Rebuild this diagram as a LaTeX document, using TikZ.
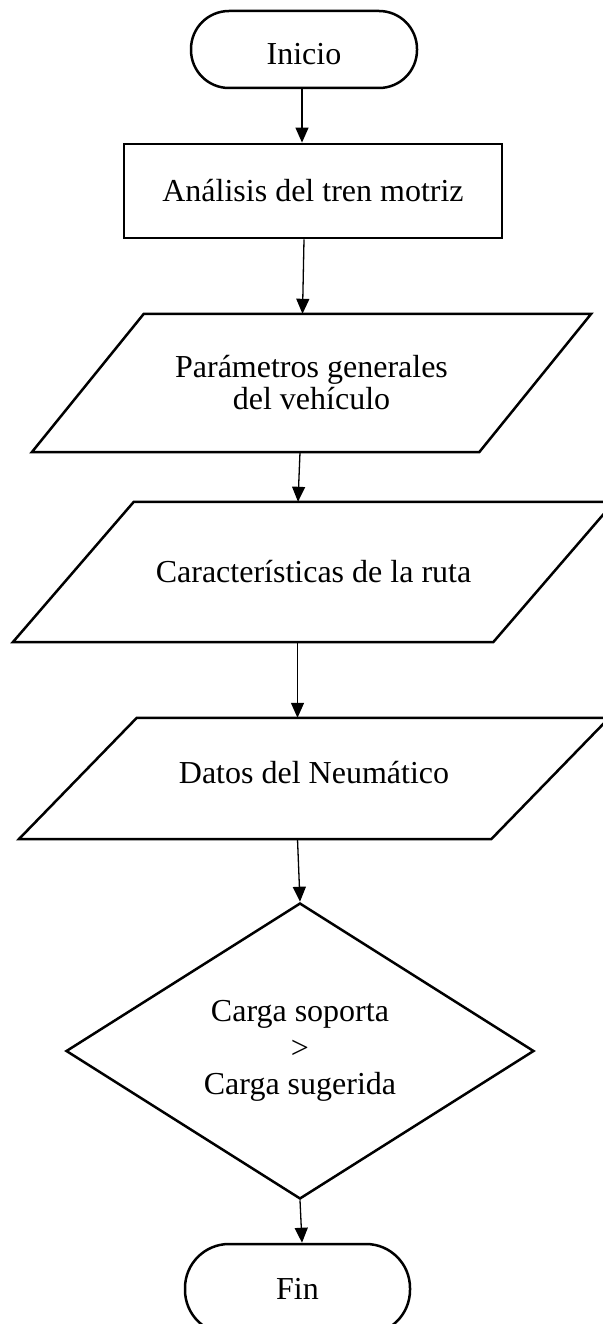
\documentclass[tikz,border=0pt]{standalone}
\usepackage{fontspec}
\setmainfont{Liberation Serif}
\usetikzlibrary{arrows.meta,shapes.geometric,calc}
\begin{document}
\begin{tikzpicture}[x=1pt,y=-1pt,
  font=\fontsize{32}{32}\selectfont,
  term/.style={draw, line width=2.5pt, rectangle, inner sep=0pt},
  proc/.style={draw, line width=2.8pt, rectangle, minimum width=378pt, minimum height=94pt, inner sep=0pt},
  iotext/.style={draw=none, inner sep=0pt, align=center},
  iobox/.style={line width=2.5pt, line join=miter},
  decis/.style={draw, line width=2.5pt, diamond, minimum width=468pt, minimum height=296pt, inner sep=0pt, align=center, font=\fontsize{32}{36.5}\selectfont},
  conn/.style={line width=1.3pt, -{Triangle[length=15pt,width=13pt]}}
]
\useasboundingbox (0,0) rectangle (602,1324);
\node[term, rounded corners=38pt, minimum width=226pt, minimum height=77pt, text height=30pt, text depth=0pt] (ini) at (304,49.5) {Inicio};
\node[proc] (ana) at (313,191) {Análisis del tren motriz};
\node[iotext, minimum width=447pt, minimum height=138pt] (pa1) at (311.5,383) {Parámetros generales\\del vehículo};
\draw[iobox] ([xshift=56pt]pa1.north west) -- ([xshift=56pt]pa1.north east) -- ([xshift=-56pt]pa1.south east) -- ([xshift=-56pt]pa1.south west) -- cycle;
\node[iotext, minimum width=480pt, minimum height=140pt] (pa2) at (313.5,572) {Características de la ruta};
\draw[iobox] ([xshift=60.5pt]pa2.north west) -- ([xshift=60.5pt]pa2.north east) -- ([xshift=-60.5pt]pa2.south east) -- ([xshift=-60.5pt]pa2.south west) -- cycle;
\node[iotext, minimum width=472pt, minimum height=121pt, text height=22pt, text depth=12pt] (pa3) at (314,778.5) {Datos del Neumático};
\draw[iobox] ([xshift=59pt]pa3.north west) -- ([xshift=59pt]pa3.north east) -- ([xshift=-59pt]pa3.south east) -- ([xshift=-59pt]pa3.south west) -- cycle;
\node[decis] (dec) at (300,1051) {Carga soporta\\>\\Carga sugerida};
\node[term, rounded corners=44pt, minimum width=225pt, minimum height=90pt] (fin) at (297.5,1289) {Fin};
\draw[conn] ([xshift=-2pt]ini.south) -- ([xshift=-11pt]ana.north);
\draw[conn] ([xshift=-9pt]ana.south) -- ([xshift=-9pt]pa1.north);
\draw[conn] ([xshift=-11.5pt]pa1.south) -- ([xshift=-15.5pt]pa2.north);
\draw[conn] ([xshift=-16pt]pa2.south) -- ([xshift=-16.5pt]pa3.north);
\draw[conn] ([xshift=-16.5pt]pa3.south) -- (dec.north);
\draw[conn] (dec.south) -- ([xshift=4.5pt]fin.north);
\end{tikzpicture}
\end{document}
